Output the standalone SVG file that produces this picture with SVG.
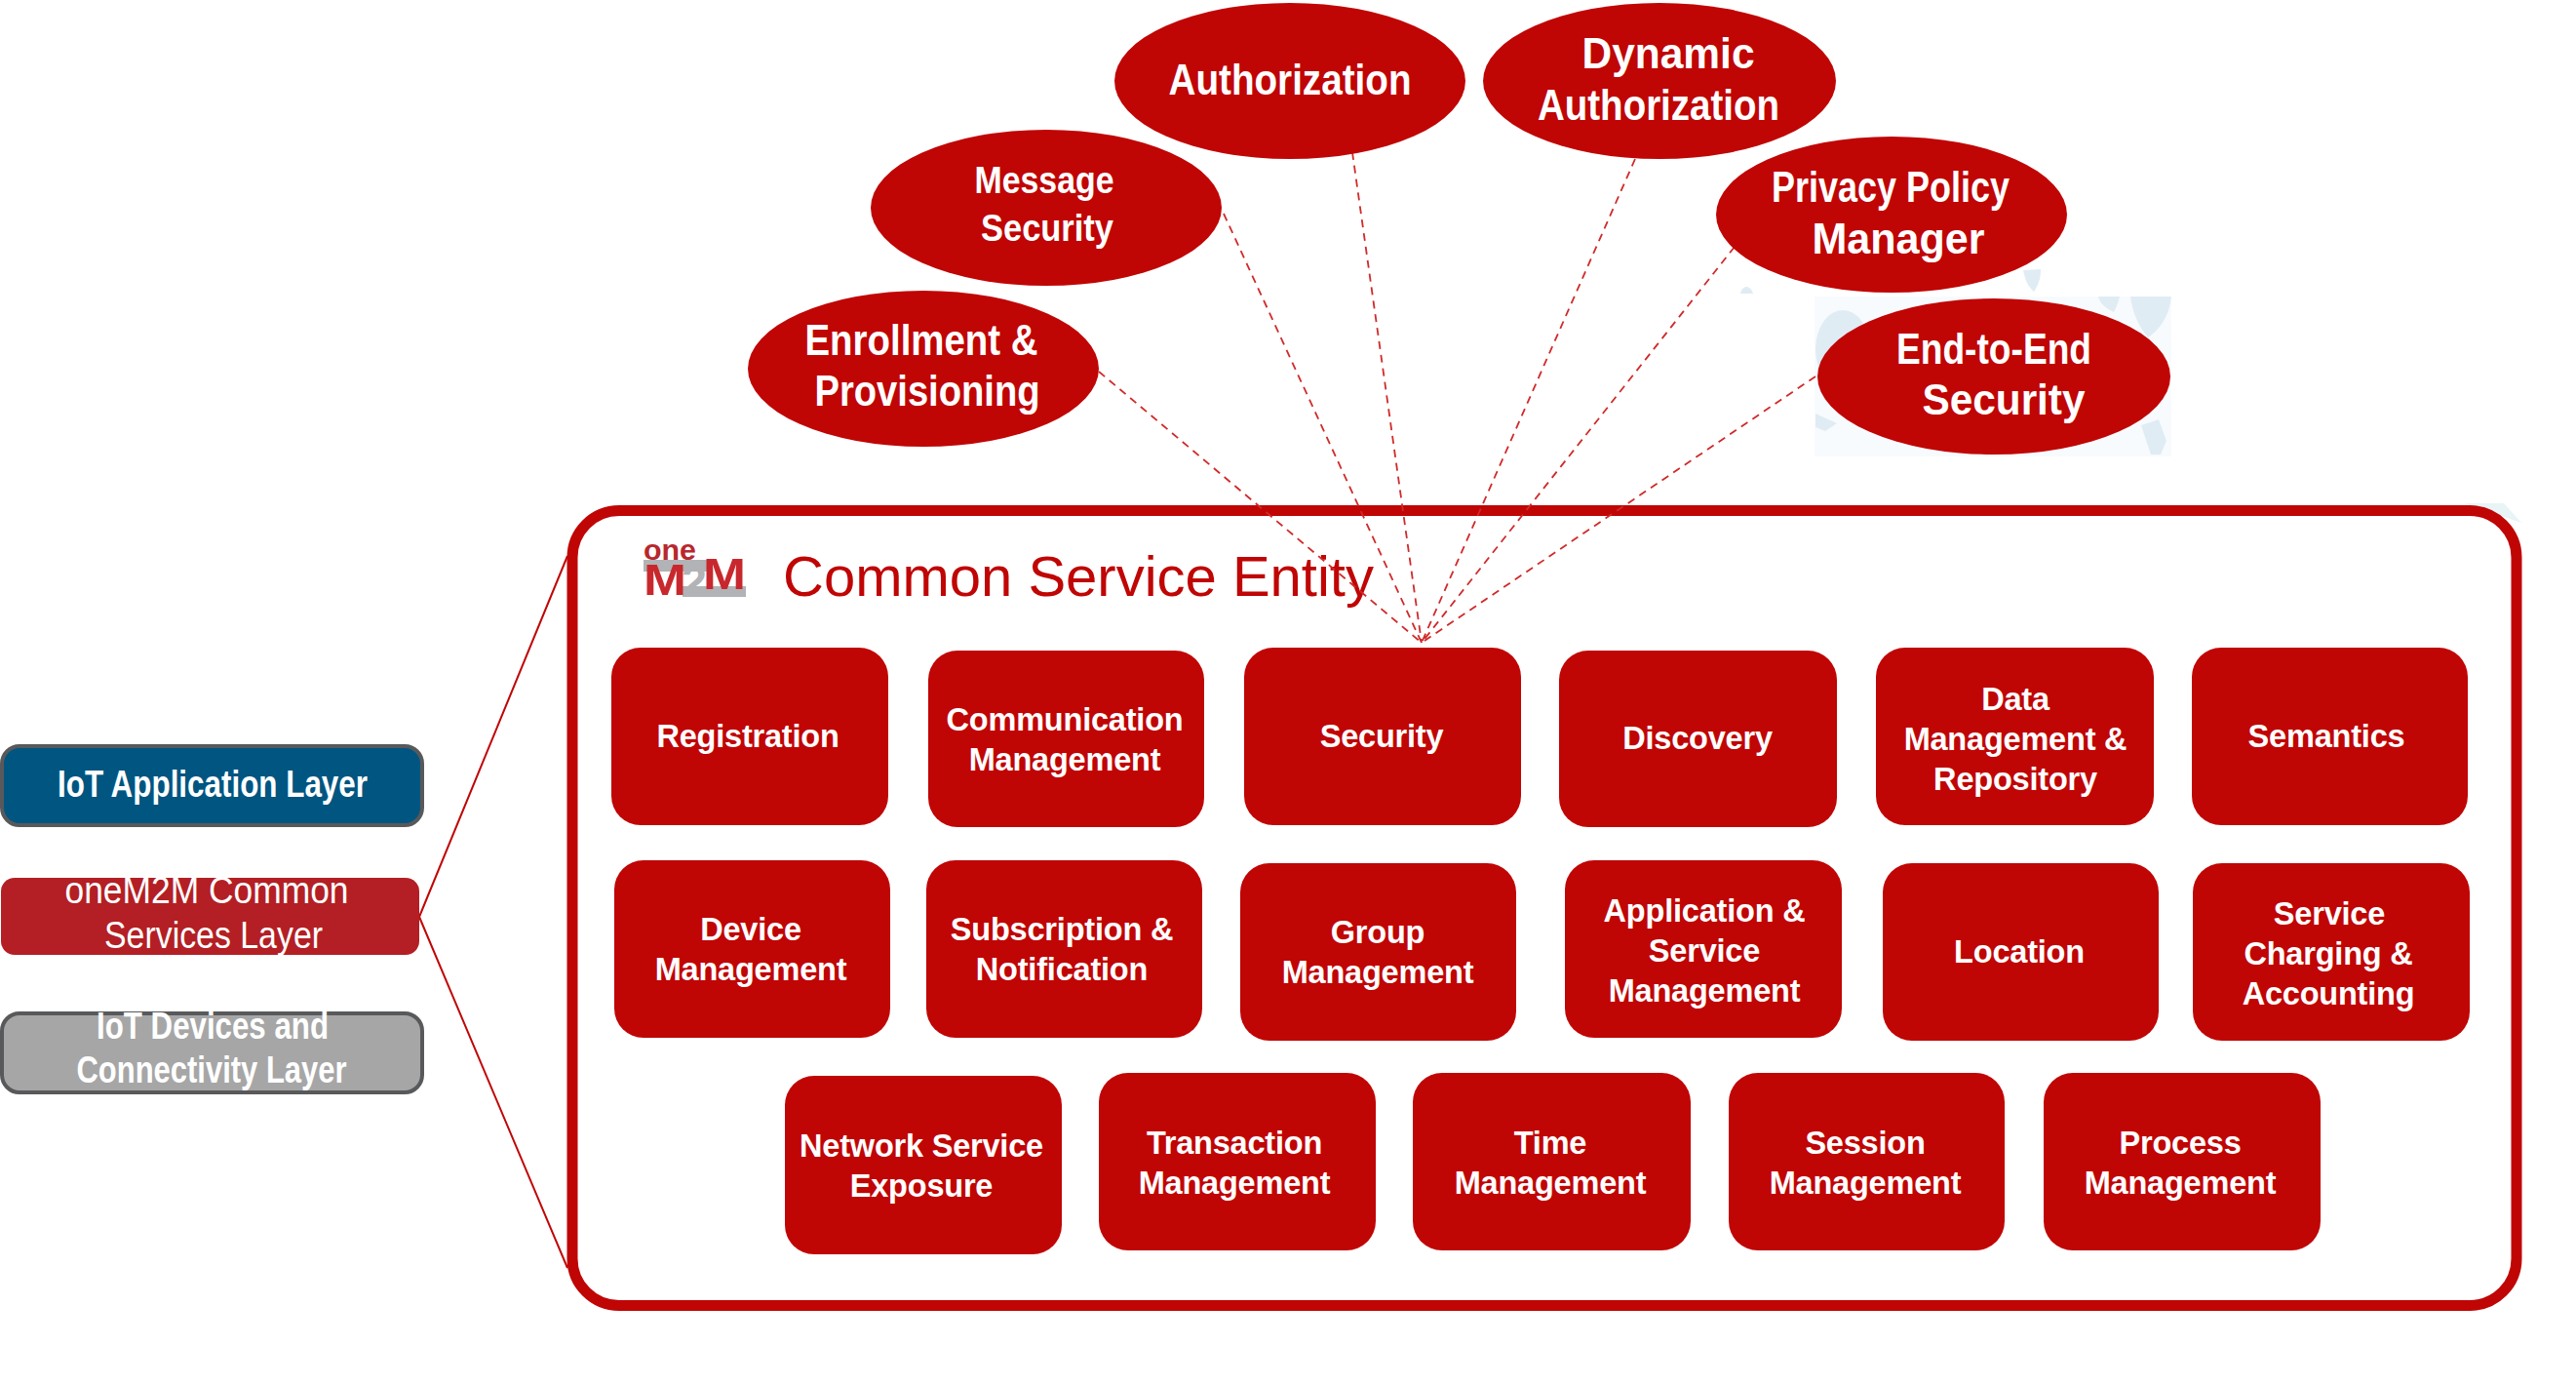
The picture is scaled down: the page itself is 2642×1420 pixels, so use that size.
<svg xmlns="http://www.w3.org/2000/svg" width="2642" height="1420" viewBox="0 0 2642 1420">
<style>
text{font-family:"Liberation Sans",Arial,sans-serif;text-anchor:middle}
.b rect{fill:#c00505;rx:30px;ry:30px}
.b text{font-weight:700;font-size:32.5px;fill:#fff;letter-spacing:-.2px}
.e ellipse{fill:#c00505}
.e text{font-weight:700;font-size:44px;fill:#fff}
.e .m{font-size:39px}
.l text{font-size:39px;fill:#fff}
.l .s{font-weight:700}
.wash{fill:#e0ecf4}
.dash{fill:none;stroke:#d02a2a;stroke-width:1.8;stroke-dasharray:8 6}
.solid{fill:none;stroke:#c00505;stroke-width:2}
.grey{fill:#b1b3b6}
.lm{font-size:44px;font-weight:700;fill:#c8282d}
</style>
<rect width="2642" height="1420" fill="#fff"/>
<g id="background-fragments">
<rect x="1861" y="304" width="366" height="164" fill="#f8fbfd"/>
<ellipse class="wash" cx="1890" cy="358" rx="28" ry="40"/>
<path class="wash" d="M2185 304h42c-2 20-12 34-24 42c-10-12-16-26-18-42z"/>
<path class="wash" d="M2152 304h22c-2 8-4 12-6 16c-8-4-14-8-16-16z"/>
<path class="wash" d="M1862 424l22 10l-12 8l-10-4z"/>
<path class="wash" d="M2196 436l18-6l8 22l-6 14h-10z"/>
<path class="wash" d="M2075 277c2 10 5 17 11 22c5-7 7-15 7-23z"/>
<path class="wash" d="M1785 301c1-5 4-7 6-7c3 0 6 3 7 7z"/>
<path d="M2528 516h40l18 20z" fill="#e8f4f6"/>
</g>
<g id="container">
<rect x="587" y="523.5" width="1994" height="815" rx="48" ry="48" fill="#fff" stroke="#c00505" stroke-width="11"/>
</g>
<g id="logo">
<rect class="grey" x="660" y="574" width="66" height="12"/>
<rect class="grey" x="700" y="601" width="65" height="11"/>
<text x="687" y="574" font-size="30" font-weight="700" fill="#b8282d" textLength="54" lengthAdjust="spacingAndGlyphs">one</text>
<text class="grey" x="712" y="612" font-size="46" font-weight="700" textLength="26" lengthAdjust="spacingAndGlyphs">2</text>
<text class="lm" x="682" y="610" textLength="44" lengthAdjust="spacingAndGlyphs">M</text>
<text class="lm" x="743" y="604" textLength="44" lengthAdjust="spacingAndGlyphs">M</text>
</g>
<text id="title" x="1106" y="611" font-size="58" fill="#c00505">Common Service Entity</text>
<g id="connectors">
<path class="solid" d="M430 940L582 570M430 940L582 1300"/>
<path class="dash" d="M1127 381L1458 659M1255 219L1458 659M1385 142L1458 659M1677 163L1458 659M1779 253L1458 659M1862 386L1458 659"/>
</g>
<g id="layers" class="l">
<g id="layer-app"><rect x="2" y="765" width="431" height="81" rx="18" fill="#005581" stroke="#58595b" stroke-width="4"/><text class="s" x="218" y="817" textLength="318" lengthAdjust="spacingAndGlyphs">IoT Application Layer</text></g>
<g id="layer-cse"><rect x="1" y="900" width="429" height="79" rx="14" fill="#b31f24"/><text x="212" y="926" textLength="291" lengthAdjust="spacingAndGlyphs">oneM2M Common</text><text x="219" y="972" textLength="224" lengthAdjust="spacingAndGlyphs">Services Layer</text></g>
<g id="layer-dev"><rect x="2" y="1039" width="431" height="81" rx="18" fill="#a6a6a6" stroke="#58595b" stroke-width="4"/><text class="s" x="218" y="1065" textLength="238" lengthAdjust="spacingAndGlyphs">IoT Devices and</text><text class="s" x="217" y="1110" textLength="277" lengthAdjust="spacingAndGlyphs">Connectivity Layer</text></g>
</g>
<g id="features" class="e">
<g id="f-auth"><ellipse cx="1323" cy="83" rx="180" ry="80"/><text x="1323" y="97" textLength="249" lengthAdjust="spacingAndGlyphs">Authorization</text></g>
<g id="f-dyn"><ellipse cx="1702" cy="83" rx="181" ry="80"/><text x="1711" y="70" textLength="177" lengthAdjust="spacingAndGlyphs">Dynamic</text><text x="1701" y="123" textLength="248" lengthAdjust="spacingAndGlyphs">Authorization</text></g>
<g id="f-msg"><ellipse cx="1073" cy="213" rx="180" ry="80"/><text class="m" x="1071" y="198" textLength="143" lengthAdjust="spacingAndGlyphs">Message</text><text class="m" x="1074" y="247" textLength="136" lengthAdjust="spacingAndGlyphs">Security</text></g>
<g id="f-priv"><ellipse cx="1940" cy="220" rx="180" ry="80"/><text x="1939" y="207" textLength="244" lengthAdjust="spacingAndGlyphs">Privacy Policy</text><text x="1947" y="260" textLength="177" lengthAdjust="spacingAndGlyphs">Manager</text></g>
<g id="f-enr"><ellipse cx="947" cy="378" rx="180" ry="80"/><text x="945" y="364" textLength="239" lengthAdjust="spacingAndGlyphs">Enrollment &amp;</text><text x="951" y="416" textLength="231" lengthAdjust="spacingAndGlyphs">Provisioning</text></g>
<g id="f-e2e"><ellipse cx="2045" cy="386" rx="181" ry="80"/><text x="2045" y="373" textLength="200" lengthAdjust="spacingAndGlyphs">End-to-End</text><text x="2055" y="425" textLength="167" lengthAdjust="spacingAndGlyphs">Security</text></g>
</g>
<g id="services" class="b">
<g id="s1"><rect x="627" y="664" width="284" height="182"/><text x="767" y="766">Registration</text></g>
<g id="s2"><rect x="952" y="667" width="283" height="181"/><text x="1092" y="749">Communication</text><text x="1092" y="790">Management</text></g>
<g id="s3"><rect x="1276" y="664" width="284" height="182"/><text x="1417" y="766">Security</text></g>
<g id="s4"><rect x="1599" y="667" width="285" height="181"/><text x="1741" y="768">Discovery</text></g>
<g id="s5"><rect x="1924" y="664" width="285" height="182"/><text x="2067" y="728">Data</text><text x="2067" y="769">Management &amp;</text><text x="2067" y="810">Repository</text></g>
<g id="s6"><rect x="2248" y="664" width="283" height="182"/><text x="2386" y="766">Semantics</text></g>
<g id="s7"><rect x="630" y="882" width="283" height="182"/><text x="770" y="964">Device</text><text x="770" y="1005">Management</text></g>
<g id="s8"><rect x="950" y="882" width="283" height="182"/><text x="1089" y="964">Subscription &amp;</text><text x="1089" y="1005">Notification</text></g>
<g id="s9"><rect x="1272" y="885" width="283" height="182"/><text x="1413" y="967">Group</text><text x="1413" y="1008">Management</text></g>
<g id="s10"><rect x="1605" y="882" width="284" height="182"/><text x="1748" y="945">Application &amp;</text><text x="1748" y="986">Service</text><text x="1748" y="1027">Management</text></g>
<g id="s11"><rect x="1931" y="885" width="283" height="182"/><text x="2071" y="987">Location</text></g>
<g id="s12"><rect x="2249" y="885" width="284" height="182"/><text x="2389" y="948">Service</text><text x="2388" y="989">Charging &amp;</text><text x="2388" y="1030">Accounting</text></g>
<g id="s13"><rect x="805" y="1103" width="284" height="183"/><text x="945" y="1186">Network Service</text><text x="945" y="1227">Exposure</text></g>
<g id="s14"><rect x="1127" y="1100" width="284" height="182"/><text x="1266" y="1183">Transaction</text><text x="1266" y="1224">Management</text></g>
<g id="s15"><rect x="1449" y="1100" width="285" height="182"/><text x="1590" y="1183">Time</text><text x="1590" y="1224">Management</text></g>
<g id="s16"><rect x="1773" y="1100" width="283" height="182"/><text x="1913" y="1183">Session</text><text x="1913" y="1224">Management</text></g>
<g id="s17"><rect x="2096" y="1100" width="284" height="182"/><text x="2236" y="1183">Process</text><text x="2236" y="1224">Management</text></g>
</g>
</svg>
